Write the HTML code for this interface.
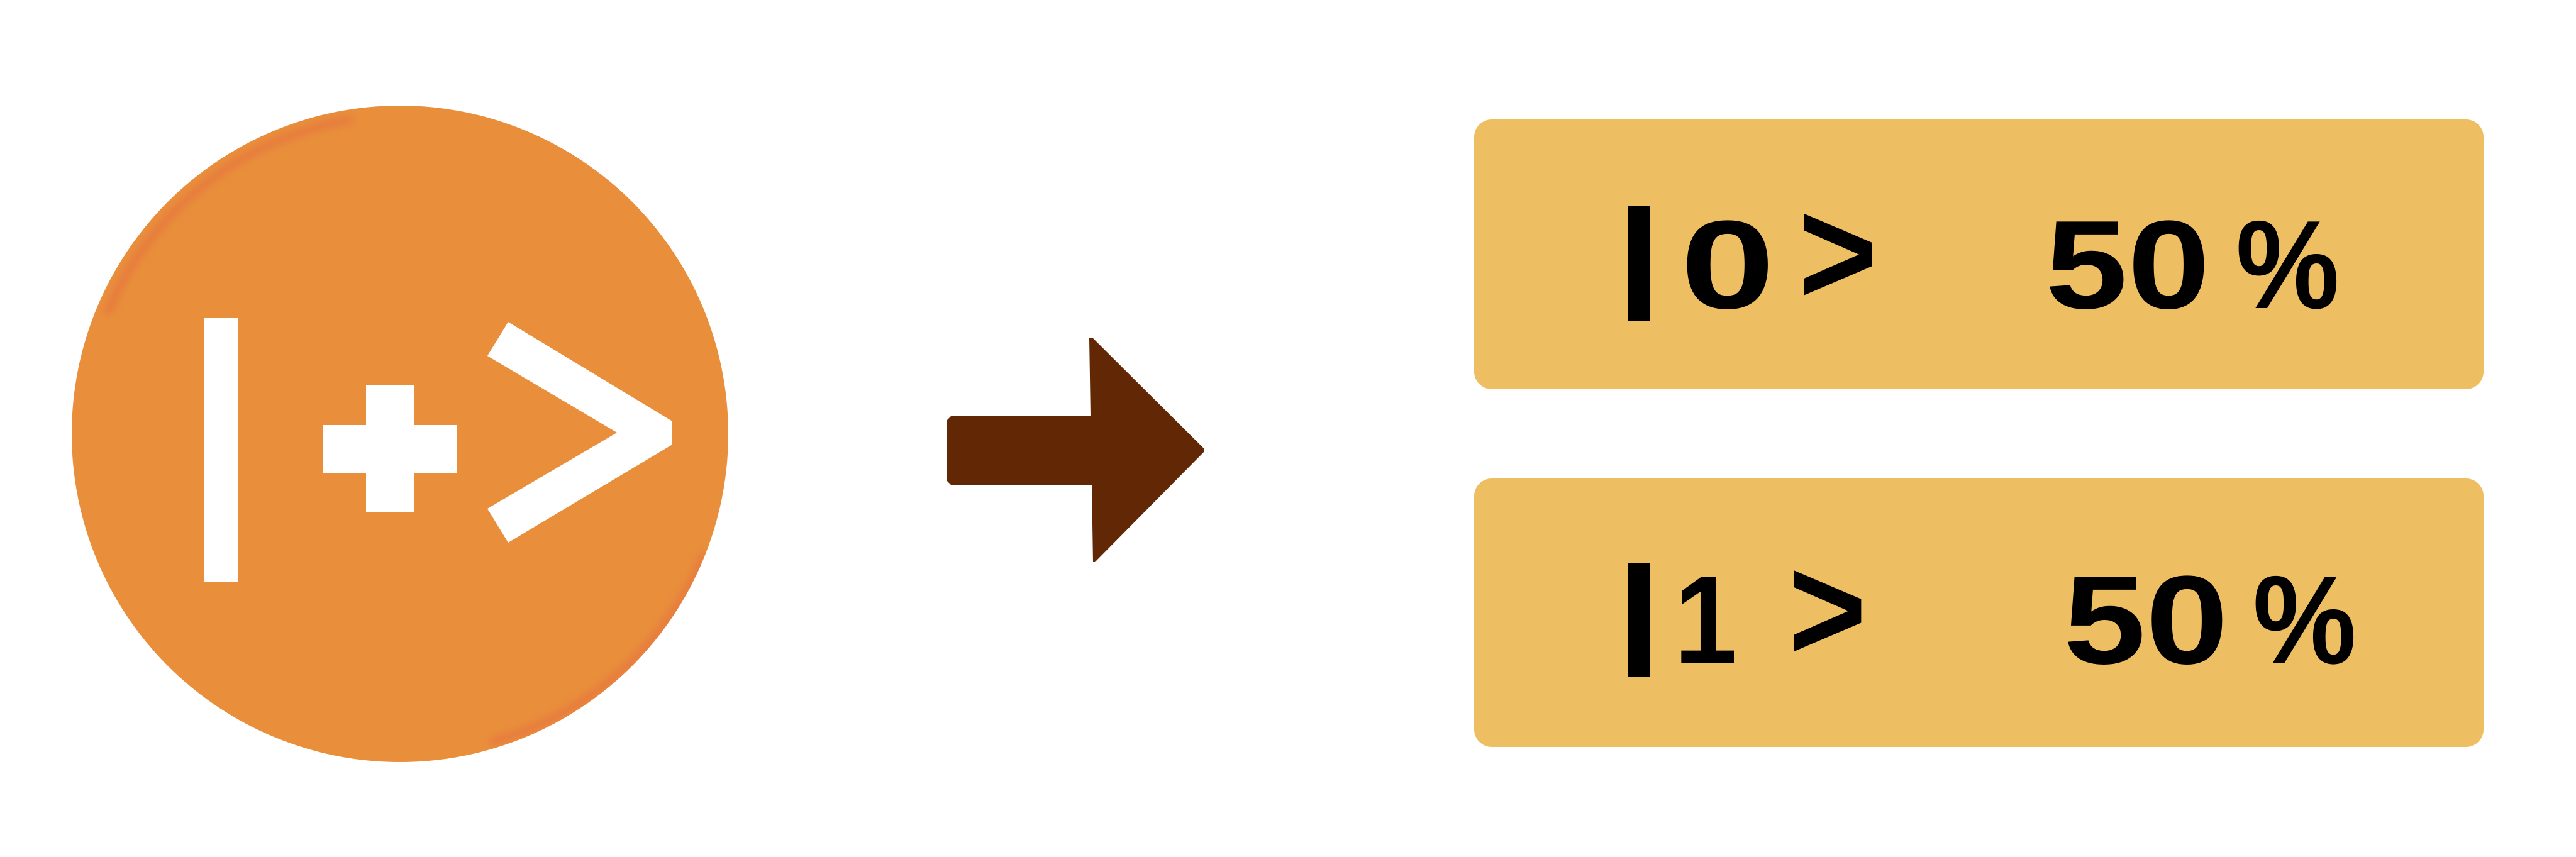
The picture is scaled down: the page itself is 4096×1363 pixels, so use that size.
<!DOCTYPE html>
<html><head><meta charset="utf-8"><style>
html,body{margin:0;padding:0;background:#fff;width:4096px;height:1363px;overflow:hidden}
svg{display:block}
text{font-family:"Liberation Sans",sans-serif;font-weight:bold;fill:#000}
</style></head><body>
<svg width="4096" height="1363" viewBox="0 0 4096 1363" xmlns="http://www.w3.org/2000/svg">
<defs>
<clipPath id="cc"><circle cx="636" cy="690" r="522"/></clipPath>
<filter id="bl" x="-20%" y="-20%" width="140%" height="140%"><feGaussianBlur stdDeviation="6"/></filter>
</defs>
<circle cx="636" cy="690" r="522" fill="#e98f3c"/>
<g clip-path="url(#cc)" filter="url(#bl)">
<path d="M 170 500 A 508 508 0 0 1 560 190" stroke="#e5703f" stroke-width="12" fill="none" opacity="0.7"/>
<path d="M 1120 880 A 508 508 0 0 1 780 1180" stroke="#e5703f" stroke-width="12" fill="none" opacity="0.7"/>
</g>
<rect x="325" y="505" width="54" height="421" fill="#fff"/>
<rect x="513" y="676" width="213" height="76" fill="#fff"/>
<rect x="582" y="612" width="76" height="203" fill="#fff"/>
<polygon points="808,512 1069,670 1069,707 808,863 775,809 981,688 775,566" fill="#fff"/>
<polygon points="1512,662 1734,662 1732,538 1738,538 1914,713 1914,719 1741,894 1738,894 1736,771 1512,771 1506,765 1506,668" fill="#622805"/>
<rect x="2344" y="190" width="1605" height="429" rx="28" fill="#eebe63"/>
<rect x="2344" y="761" width="1605" height="427" rx="28" fill="#eebe63"/>
<rect x="2589" y="328" width="35" height="183" fill="#000"/>
<text x="2672" y="490" font-size="200" textLength="150" lengthAdjust="spacingAndGlyphs">0</text>
<text x="2860" y="484" font-size="240" textLength="125" lengthAdjust="spacingAndGlyphs">&gt;</text>
<text x="3252" y="490" font-size="200" textLength="262" lengthAdjust="spacingAndGlyphs">50</text>
<text x="3555" y="490" font-size="200" textLength="165" lengthAdjust="spacingAndGlyphs">%</text>
<rect x="2589" y="895" width="35" height="182" fill="#000"/>
<text x="2662" y="1055" font-size="200" textLength="100" lengthAdjust="spacingAndGlyphs">1</text>
<text x="2843" y="1051" font-size="240" textLength="125" lengthAdjust="spacingAndGlyphs">&gt;</text>
<text x="3281" y="1055" font-size="200" textLength="262" lengthAdjust="spacingAndGlyphs">50</text>
<text x="3582" y="1055" font-size="200" textLength="165" lengthAdjust="spacingAndGlyphs">%</text>
</svg>
</body></html>
